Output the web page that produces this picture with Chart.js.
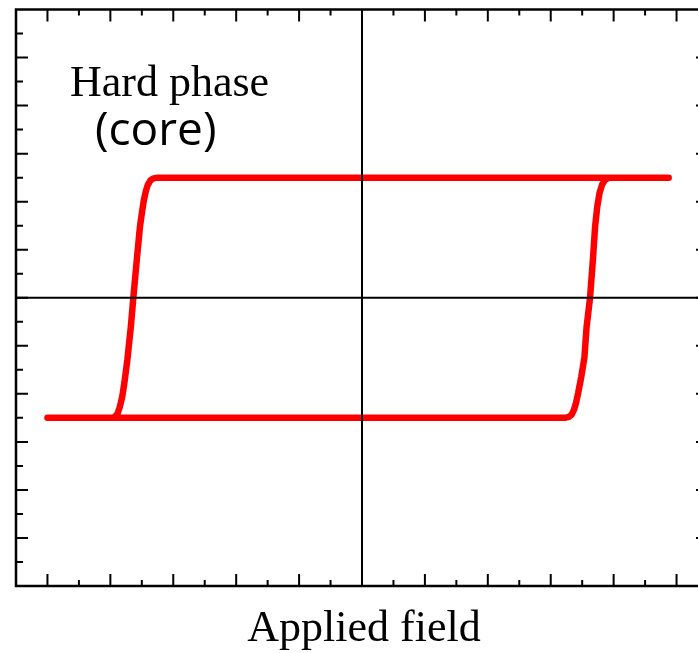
<!DOCTYPE html>
<html>
<head>
<meta charset="utf-8">
<script src="https://cdn.jsdelivr.net/npm/chart.js@4"></script>
<style>
  html, body { margin: 0; padding: 0; background: #fff; overflow: hidden; }
  #wrap { position: relative; width: 712px; height: 653px; }
</style>
</head>
<body>
<div id="wrap"><canvas id="loop"></canvas></div>
<script>
// Ascending branch: field swept from negative to positive
const fieldUp  = [-10, 6.45, 6.58, 6.67, 6.74, 6.8, 6.87, 6.97, 7.07, 7.14, 7.25, 7.34, 7.41, 7.48, 7.55, 7.63, 7.72, 7.85, 9.75];
const momentUp = [-5, -5, -4.96, -4.86, -4.66, -4.4, -3.98, -3.3, -2.5, -1.22, 0, 1.57, 2.95, 3.8, 4.35, 4.7, 4.9, 5, 5];

// Descending branch: field swept back from positive to negative
const fieldDown  = [9.75, -6.5, -6.63, -6.73, -6.81, -6.87, -6.93, -6.99, -7.06, -7.16, -7.27, -7.35, -7.46, -7.55, -7.62, -7.7, -7.78, -7.88, -8.0, -10];
const momentDown = [5, 5, 4.97, 4.88, 4.7, 4.45, 4.1, 3.6, 2.95, 1.57, 0, -1.22, -2.59, -3.5, -4.1, -4.55, -4.85, -4.98, -5, -5];

// Axis ranges and tick positions (every integer, long ticks on even values)
const xRange = [-11, 11];
const yRange = [-12, 12];
const xTicks = [-10, -9, -8, -7, -6, -5, -4, -3, -2, -1, 0, 1, 2, 3, 4, 5, 6, 7, 8, 9, 10];
const yTicks = [-11, -10, -9, -8, -7, -6, -5, -4, -3, -2, -1, 0, 1, 2, 3, 4, 5, 6, 7, 8, 9, 10, 11];

const xLabel = 'Applied field';
const phaseLabel = 'Hard phase';
const phaseSub = '(core)';

const loopPoints = [];
fieldUp.forEach((x, i) => loopPoints.push({ x, y: momentUp[i] }));
fieldDown.forEach((x, i) => loopPoints.push({ x, y: momentDown[i] }));

// frame, inward ticks, zero lines and text drawn over the curve
const framePlugin = {
  id: 'frame',
  afterDatasetsDraw(chart) {
    const { ctx, chartArea: a, scales: { x, y } } = chart;
    ctx.save();
    ctx.strokeStyle = '#000';
    ctx.lineCap = 'butt';

    // zero lines
    ctx.lineWidth = 2;
    const x0 = x.getPixelForValue(0);
    const y0 = y.getPixelForValue(0);
    ctx.beginPath();
    ctx.moveTo(x0, a.top); ctx.lineTo(x0, a.bottom);
    ctx.moveTo(a.left, y0); ctx.lineTo(a.right, y0);
    ctx.stroke();

    // ticks
    ctx.lineWidth = 2;
    ctx.beginPath();
    xTicks.forEach(v => {
      const px = x.getPixelForValue(v);
      const len = v % 2 === 0 ? 12 : 6;
      ctx.moveTo(px, a.bottom); ctx.lineTo(px, a.bottom - len);
      ctx.moveTo(px, a.top); ctx.lineTo(px, a.top + len);
    });
    yTicks.forEach(v => {
      const py = y.getPixelForValue(v);
      const len = v % 2 === 0 ? 12 : 7;
      ctx.moveTo(a.left, py); ctx.lineTo(a.left + len, py);
      ctx.moveTo(a.right, py); ctx.lineTo(a.right - len, py);
    });
    ctx.stroke();

    // box
    ctx.lineWidth = 2.5;
    ctx.strokeRect(a.left, a.top, a.right - a.left, a.bottom - a.top);

    // text
    ctx.fillStyle = '#000';
    ctx.textBaseline = 'alphabetic';
    ctx.font = '44px "Liberation Serif"';
    ctx.textAlign = 'center';
    ctx.fillText(xLabel, x0 + 2, 641);
    ctx.textAlign = 'left';
    ctx.fillText(phaseLabel, 70, 96);
    ctx.font = '46px "Open Sans"';
    ctx.fillText(phaseSub, 95, 145);
    ctx.restore();
  }
};

const config = {
  type: 'scatter',
  data: {
    datasets: [{
      data: loopPoints,
      showLine: true,
      borderColor: '#ff0000',
      borderWidth: 6.5,
      borderCapStyle: 'round',
      borderJoinStyle: 'round',
      tension: 0,
      pointRadius: 0,
      pointHoverRadius: 0
    }]
  },
  options: {
    responsive: true,
    maintainAspectRatio: false,
    animation: false,
    layout: { padding: { left: 16, top: 9.5, right: 4, bottom: 67 } },
    plugins: { legend: { display: false }, tooltip: { enabled: false } },
    scales: {
      x: { type: 'linear', min: xRange[0], max: xRange[1], display: false },
      y: { type: 'linear', min: yRange[0], max: yRange[1], display: false }
    }
  },
  plugins: [framePlugin]
};

new Chart(document.getElementById('loop').getContext('2d'), config);
</script>
</body>
</html>
